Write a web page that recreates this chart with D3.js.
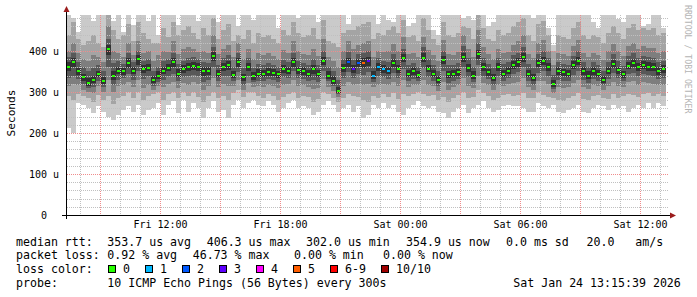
<!DOCTYPE html>
<html><head><meta charset="utf-8">
<script src="https://cdn.jsdelivr.net/npm/d3@7"></script>
<style>
html,body{margin:0;padding:0;background:#fff;}
svg{display:block;}
text{font-family:"DejaVu Sans Mono",monospace;white-space:pre;}
</style></head><body><svg id="c" width="697" height="297"></svg>
<script>
// ---- data (microseconds), one value per 15-minute step starting Fri 07:18 ----
const median=[360,374,350,336,322,330,344,327,406,340,352,350,370,352,380,356,358,330,340,352,358,372,345,355,360,363,360,350,350,388,
345,360,365,341,372,336,360,338,345,345,349,346,343,356,352,372,353,350,345,355,345,376,340,328,303,358,372,355,370,370,
375,340,360,355,352,370,355,382,345,350,342,383,357,345,330,378,343,345,348,385,358,340,392,360,348,335,360,345,352,365,
372,385,345,335,370,376,360,320,350,348,345,365,375,350,340,350,345,330,352,368,353,343,364,370,360,365,362,360,350,355];
const loss=[0,0,0,0,0,0,0,0,0,0,0,0,0,0,0,0,0,0,0,0,0,0,0,0,0,0,0,0,0,0,
0,0,0,0,0,0,0,0,0,0,0,0,0,0,0,0,0,0,0,0,0,0,0,0,0,0,2,3,2,5,
3,1,1,1,1,0,0,0,0,0,0,0,0,0,0,0,0,0,0,0,0,0,0,0,0,0,0,0,0,0,
0,0,0,0,0,0,0,0,0,0,0,0,0,0,0,0,0,0,0,0,0,0,0,0,0,0,0,0,0,0];
const lo1=[212,200,273,269,260,248,265,252,240,232,244,256,265,252,269,244,256,260,273,244,269,277,248,281,252,273,260,236,260,277,
252,256,236,269,281,260,273,281,269,265,277,269,252,260,273,281,260,265,260,244,252,269,277,269,252,260,269,252,265,236,
244,269,260,273,260,269,252,244,260,269,277,265,260,265,252,248,236,252,260,269,248,260,269,277,260,252,256,265,269,265,
265,260,252,252,273,265,260,269,252,248,256,260,269,252,248,260,269,265,256,269,260,265,252,260,269,260,273,260,273,265];
const hi1=[500,480,447,500,500,472,500,500,500,472,500,447,500,464,500,500,472,500,440,500,500,500,464,500,500,500,472,500,500,500,
470,500,500,500,460,500,500,475,500,500,500,500,455,500,500,500,480,500,500,500,470,500,500,500,500,500,465,500,500,490,
500,500,465,500,475,470,500,500,460,468,500,500,500,450,440,500,500,500,500,480,485,475,500,500,462,470,500,500,500,500,
500,500,500,480,500,500,455,415,500,500,500,500,500,500,500,470,455,500,500,500,478,470,500,500,500,460,465,500,500,455];
const lo2=[290,280,295,290,285,275,292,280,290,270,285,290,300,285,300,280,290,295,300,280,295,300,285,300,290,300,288,275,290,300,
285,290,280,298,305,288,300,300,290,285,295,290,280,288,295,300,285,290,288,275,282,300,295,285,275,285,295,290,288,280,
275,290,285,295,288,298,282,295,290,295,300,296,290,292,280,288,275,285,292,300,285,288,305,298,290,280,286,292,295,290,
292,298,285,285,300,292,288,285,280,278,285,290,298,282,280,290,292,285,282,295,285,290,296,292,288,295,298,290,296,290];
const hi2=[440,470,430,415,425,440,420,410,500,450,430,440,465,425,470,445,430,420,420,455,435,470,440,450,460,445,430,455,440,480,
430,450,465,425,440,430,450,420,445,435,440,430,420,450,440,470,445,435,440,455,430,475,425,420,410,445,450,450,460,465,
470,430,445,440,450,460,445,475,435,440,425,480,450,430,415,470,440,435,445,460,455,430,490,455,430,425,450,440,445,460,
470,480,440,425,465,472,440,400,440,435,430,455,470,440,430,440,435,420,445,460,445,430,455,465,450,455,450,455,440,445];
const lo3=[315,320,318,305,300,298,315,300,330,300,315,318,325,312,330,310,318,305,315,312,320,325,310,322,318,325,320,305,315,335,
312,320,315,315,330,305,322,312,315,312,318,315,310,318,320,330,315,318,312,308,310,332,312,302,288,315,325,318,320,318,
320,312,318,320,316,325,314,330,313,318,318,330,318,315,302,325,305,312,318,335,315,310,340,322,316,305,318,315,320,322,
325,335,312,305,328,328,320,298,312,310,312,322,330,312,308,316,314,304,314,325,315,313,324,326,318,324,322,320,318,318];
const hi3=[400,420,395,380,375,390,385,372,460,400,395,385,420,390,425,395,400,375,390,400,398,425,392,405,410,405,398,400,395,440,
392,405,415,385,420,380,405,380,395,390,395,388,380,402,395,425,400,392,390,405,388,430,385,375,360,400,425,405,415,420,
425,385,400,398,400,418,400,435,392,395,385,435,402,390,375,428,392,390,398,440,405,385,450,410,392,380,405,395,398,415,
425,440,392,382,420,428,400,365,395,392,388,412,428,395,385,395,390,378,400,418,400,388,412,420,405,412,408,408,395,400];
const lo4=[335,340,332,320,310,312,328,312,360,318,330,335,345,330,350,332,338,315,325,330,338,345,326,336,338,342,338,325,330,360,
328,338,340,326,348,318,340,324,328,326,332,330,325,336,335,350,333,332,326,330,325,352,326,314,296,335,348,335,345,342,
348,325,338,336,332,346,334,356,327,332,328,358,336,328,315,352,322,328,332,360,336,324,366,340,332,318,338,328,335,343,
348,360,328,318,346,350,338,308,330,328,327,342,352,330,322,332,328,316,332,346,333,326,344,347,338,344,342,340,332,335];
const hi4=[385,395,372,360,350,358,365,350,430,370,375,368,395,372,400,375,380,352,362,375,380,395,368,376,384,385,380,372,370,410,
366,382,390,360,395,358,382,358,368,366,370,366,362,378,372,395,375,370,366,380,365,400,360,352,330,380,398,378,392,395,
400,362,382,376,374,392,378,405,366,370,362,410,380,365,352,400,365,366,370,412,382,362,420,384,368,358,382,368,372,390,
396,410,368,358,392,400,382,342,372,368,366,388,400,372,362,372,366,352,374,392,376,364,388,394,382,388,385,384,372,376];
const lo5=[350,362,342,328,315,322,336,320,390,330,343,342,358,344,366,346,350,322,332,344,350,362,336,346,350,354,350,340,342,376,
336,350,354,333,362,328,350,330,337,336,340,338,334,347,344,362,344,342,336,345,336,366,332,320,298,348,362,346,360,358,
364,332,350,346,343,360,346,372,336,342,334,372,348,336,322,368,334,336,340,374,348,332,380,350,340,326,350,336,344,356,
362,374,336,326,360,366,350,312,342,340,336,356,365,342,332,342,336,322,344,358,344,334,356,360,350,356,352,350,342,346];
const hi5=[372,384,358,345,335,340,352,336,415,352,362,358,382,362,390,365,368,340,350,362,368,382,355,366,370,372,370,360,360,398,
354,370,376,350,382,345,370,348,355,354,358,355,352,365,362,382,362,360,354,365,354,386,350,338,312,368,382,365,380,382,
386,350,370,365,362,380,365,392,354,360,352,394,366,354,340,388,352,354,357,396,368,350,402,370,357,345,370,354,362,375,
382,396,354,345,380,386,370,330,360,357,354,375,385,360,350,360,354,340,362,378,362,352,374,380,370,375,372,370,360,365];

const yTickValues=[0,100,200,300,400];
const yTickLabels=["0  ","100 u","200 u","300 u","400 u"];
const xTickHours=[[23,12],[23,18],[24,0],[24,6],[24,12]];
const xTickLabels=["Fri 12:00","Fri 18:00","Sat 00:00","Sat 06:00","Sat 12:00"];
const lossLabels=["0","1","2","3","4","5","6-9","10/10"];
const lossColors=["#26ff00","#00b8ff","#0059ff","#5e00ff","#ff00ff","#ff5e00","#ff0000","#a00000"];
const smokeColors=["#cacaca","#a4a4a4","#7e7e7e","#585858","#323232"];

// ---- layout ----
const svg=d3.select("#c");
svg.append("rect").attr("width",697).attr("height",297).attr("fill","#fff");
const X0=66,X1=666,YT=15,YB=215;
const t0=new Date(2026,0,23,7,18), t1=new Date(2026,0,24,13,18);
const x=d3.scaleTime().domain([t0,t1]).range([X0,X1]);
const y=d3.scaleLinear().domain([0,487.8]).range([YB,YT]);
const times=median.map((d,i)=>d3.timeMinute.offset(t0,i*15));
const tEnd=i=>d3.timeMinute.offset(t0,(i+1)*15);

svg.append("defs").append("clipPath").attr("id","pc").append("rect")
  .attr("x",X0).attr("y",YT).attr("width",X1-X0+1).attr("height",YB-YT);
const plot=svg.append("g").attr("clip-path","url(#pc)").attr("shape-rendering","crispEdges");

const bands=[[lo1,hi1],[lo2,hi2],[lo3,hi3],[lo4,hi4],[lo5,hi5]];
bands.forEach(([lo,hi],b)=>{
  const g=plot.append("g").attr("fill",smokeColors[b]);
  median.forEach((d,i)=>{
    const xa=Math.round(x(times[i])), xb=Math.round(x(tEnd(i)));
    const ya=Math.round(y(Math.min(hi[i],490))), yb=Math.round(y(lo[i]));
    g.append("rect").attr("x",xa).attr("width",xb-xa).attr("y",ya).attr("height",yb-ya);
  });
});

// horizontal grid (dotted, over the smoke)
const majorC="#f08c8c", minorC="#c0c0c0";
d3.range(20,488,20).forEach(v=>{
  const yy=Math.round(y(v))+0.5;
  svg.append("line").attr("x1",X0+1).attr("x2",X1+2).attr("y1",yy).attr("y2",yy)
    .attr("stroke",v%100===0?majorC:minorC).attr("stroke-dasharray","1,1");
});

// median markers coloured by loss
const lc=l=>l>=10?7:(l>=6?6:l);
const mg=svg.append("g").attr("clip-path","url(#pc)").attr("shape-rendering","crispEdges");
median.forEach((d,i)=>{
  mg.append("rect").attr("x",Math.round(x(times[i]))+1).attr("width",3)
    .attr("y",Math.round(y(d))-1).attr("height",2)
    .attr("fill",lossColors[lc(loss[i])]);
});

// vertical grid, appended directly to the svg
const hourTicks=x.ticks(d3.timeHour.every(1));
hourTicks.forEach(h=>{
  const xx=Math.round(x(h))+0.5;
  svg.append("line").attr("x1",xx).attr("x2",xx).attr("y1",YT).attr("y2",YB)
    .attr("stroke",h.getHours()%3===0?majorC:minorC).attr("stroke-dasharray","1,1");
});

// axes
svg.append("line").attr("x1",62).attr("x2",671).attr("y1",YB+0.5).attr("y2",YB+0.5).attr("stroke","#000");
svg.append("line").attr("x1",X0+0.5).attr("x2",X0+0.5).attr("y1",YB+4).attr("y2",11).attr("stroke","#000");
svg.append("path").attr("d",`M${X0+0.5-3},12 L${X0+0.5},6 L${X0+0.5+3},12 Z`).attr("fill","#9b1c1c");
svg.append("path").attr("d",`M670,${YB+0.5-3} L676,${YB+0.5} L670,${YB+0.5+3} Z`).attr("fill","#9b1c1c");

const yAxis=d3.axisLeft(y).tickValues(yTickValues).tickFormat((d,i)=>yTickLabels[i]).tickSize(0).tickPadding(7);
const ga=svg.append("g").attr("transform",`translate(${X0},0)`).call(yAxis);
ga.select(".domain").remove();
ga.selectAll("text").attr("font-family","DejaVu Sans Mono").attr("font-size","10px").attr("fill","#000").attr("dy","0.36em");

const xTicks=xTickHours.map(h=>new Date(2026,0,h[0],h[1],0));
const xAxis=d3.axisBottom(x).tickValues(xTicks).tickFormat((d,i)=>xTickLabels[i]).tickSize(0).tickPadding(6);
const gx=svg.append("g").attr("transform",`translate(0,${YB})`).call(xAxis);
gx.select(".domain").remove();
gx.selectAll("text").attr("font-family","DejaVu Sans Mono").attr("font-size","10px").attr("fill","#000");

// titles
svg.append("text").attr("transform","translate(15,113) rotate(-90)").attr("text-anchor","middle")
  .attr("font-size","11.2px").attr("fill","#000").text("Seconds");
svg.append("text").attr("transform","translate(684.5,5) rotate(90)").attr("text-anchor","start")
  .attr("font-size","8.2px").attr("fill","#b4b4b4").text("RRDTOOL / TOBI OETIKER");

// legend
const FS="11.6px";
const rows=[
  [245.5,[[16,"median rtt:"],[107.3,"353.7 us avg"],[206.7,"406.3 us max"],[306,"302.0 us min"],[406,"354.9 us now"],[506,"0.0 ms sd"],[586.5,"20.0   am/s"]]],
  [259,[[16,"packet loss:"],[107.3,"0.92 % avg"],[192.7,"46.73 % max"],[294,"0.00 % min"],[383,"0.00 % now"]]],
  [273,[[16,"loss color:"]]],
  [286.5,[[16,"probe:"],[107.3,"10 ICMP Echo Pings (56 Bytes) every 300s"],[513.3,"Sat Jan 24 13:15:39 2026"]]]
];
rows.forEach(([yy,items])=>items.forEach(([xx,t])=>{
  svg.append("text").attr("x",xx).attr("y",yy).attr("font-size",FS).attr("fill","#000").text(t);
}));
const swX=[108.5,145.5,182.5,219.5,256.5,293.5,330.5,381.5];
lossLabels.forEach((l,i)=>{
  svg.append("rect").attr("x",swX[i]).attr("y",265.5).attr("width",7).attr("height",7)
    .attr("fill",lossColors[i]).attr("stroke","#000").attr("stroke-width",1);
  svg.append("text").attr("x",swX[i]+14.5).attr("y",273).attr("font-size",FS).attr("fill","#000").text(l);
});
</script></body></html>
